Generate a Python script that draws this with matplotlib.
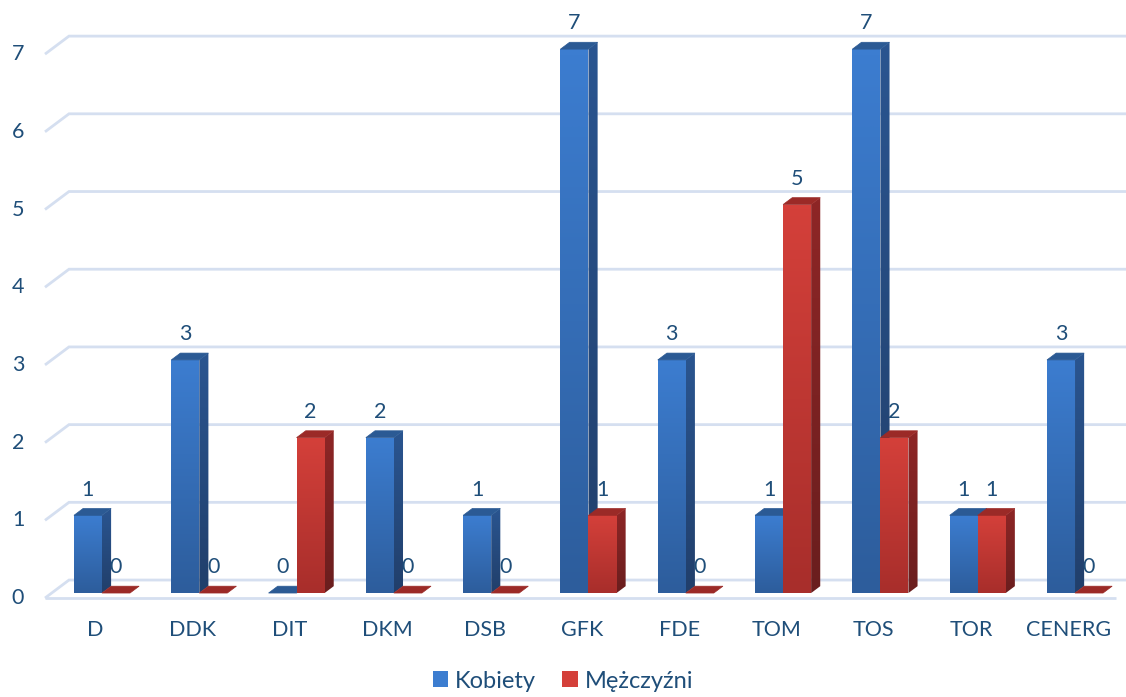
import numpy as np
import matplotlib.pyplot as plt
from matplotlib.patches import Polygon, Patch
from matplotlib.colors import LinearSegmentedColormap

categories = ['D', 'DDK', 'DIT', 'DKM', 'DSB', 'GFK', 'FDE', 'TOM', 'TOS', 'TOR', 'CENERG']
kobiety = [1, 3, 0, 2, 1, 7, 3, 1, 7, 1, 3]
mezczyzni = [0, 0, 2, 0, 0, 1, 0, 5, 2, 1, 0]
series_names = ['Kobiety', 'Mężczyźni']
y_ticks = list(range(0, 8))

plt.rcParams['font.family'] = ['Lato', 'DejaVu Sans']
text_color = '#1F4E79'
grid_color = '#D5DFF0'

# colours: (front bottom, front top), (side bottom, side top), top face
blue = (('#2D5D9C', '#3C7DD0'), ('#213F6B', '#2A5590'), '#2B5A94')
red = (('#A82E2B', '#D4403A'), ('#6A1E1E', '#8E2626'), '#9B2A27')

fig = plt.figure(figsize=(11.26, 6.97), dpi=100)
ax = fig.add_axes([0, 0, 1, 1])

# fake 3D: depth direction of the floor in data units
DX, DY = 0.2467, 0.2317
d_front, d_back = -0.278, 0.722
bar_w, bar_d = 0.288, 0.38
x_left, x_right = -0.517, 10.49

# back wall gridlines + short side-wall diagonals
for v in y_ticks:
    xb, yb = x_left + d_back * DX, v + d_back * DY
    xf, yf = x_left + d_front * DX, v + d_front * DY
    ax.plot([xf, xb, 12], [yf, yb, yb], color=grid_color, lw=2, zorder=1,
            solid_capstyle='butt', solid_joinstyle='miter')
# floor front edge
ax.plot([x_left + d_front * DX, x_right + d_front * DX], [d_front * DY, d_front * DY],
        color=grid_color, lw=2, zorder=1, solid_capstyle='butt')

z = [2]


def grad_fill(pts, c0, c1):
    poly = Polygon(pts, closed=True, facecolor='none', edgecolor='none', zorder=z[0])
    ax.add_patch(poly)
    xs, ys = zip(*pts)
    cmap = LinearSegmentedColormap.from_list('g', [c0, c1])
    im = ax.imshow(np.linspace(0, 1, 64).reshape(-1, 1), cmap=cmap, origin='lower',
                   extent=[min(xs), max(xs), min(ys), max(ys)], aspect='auto',
                   interpolation='bilinear', zorder=z[0])
    im.set_clip_path(poly)
    z[0] += 1


def solid_fill(pts, c):
    ax.add_patch(Polygon(pts, closed=True, facecolor=c, edgecolor=c, lw=0.5, zorder=z[0]))
    z[0] += 1


def draw_bar(x0, h, style):
    front_c, side_c, top_c = style
    dx, dy = bar_d * DX, bar_d * DY
    top = [(x0, h), (x0 + bar_w, h), (x0 + bar_w + dx, h + dy), (x0 + dx, h + dy)]
    if h > 0:
        front = [(x0, 0), (x0 + bar_w, 0), (x0 + bar_w, h), (x0, h)]
        side = [(x0 + bar_w, 0), (x0 + bar_w + dx, dy), (x0 + bar_w + dx, h + dy), (x0 + bar_w, h)]
        grad_fill(front, *front_c)
        grad_fill(side, *side_c)
    solid_fill(top, top_c)


for i in range(len(categories)):
    for j, (vals, style) in enumerate([(kobiety, blue), (mezczyzni, red)]):
        x0 = i - bar_w if j == 0 else i
        draw_bar(x0, vals[i], style)
        ax.text(x0 + bar_w / 2, vals[i] + 0.33, str(vals[i]), ha='center', va='center',
                fontsize=15.5, color=text_color, zorder=100)
    ax.text(i + d_front * DX, -0.476, categories[i], ha='center', va='center',
            fontsize=15.5, color=text_color)

for v in y_ticks:
    ax.text(-0.863, v + d_front * DY, str(v), ha='center', va='center',
            fontsize=15.5, color=text_color)

handles = [Patch(facecolor=blue[0][1]), Patch(facecolor=red[0][1])]
ax.legend(handles, series_names, loc='center', bbox_to_anchor=(0.5, 16 / 697),
          bbox_transform=fig.transFigure, ncol=2, frameon=False, fontsize=17,
          handlelength=0.65, handleheight=0.65, handletextpad=0.3, columnspacing=1.1,
          labelcolor=text_color, borderpad=0.1)

ax.set_xlim(-1.048, 10.524)
ax.set_ylim(-1.338, 7.632)
ax.axis('off')

fig.savefig('out.png', dpi=100)
